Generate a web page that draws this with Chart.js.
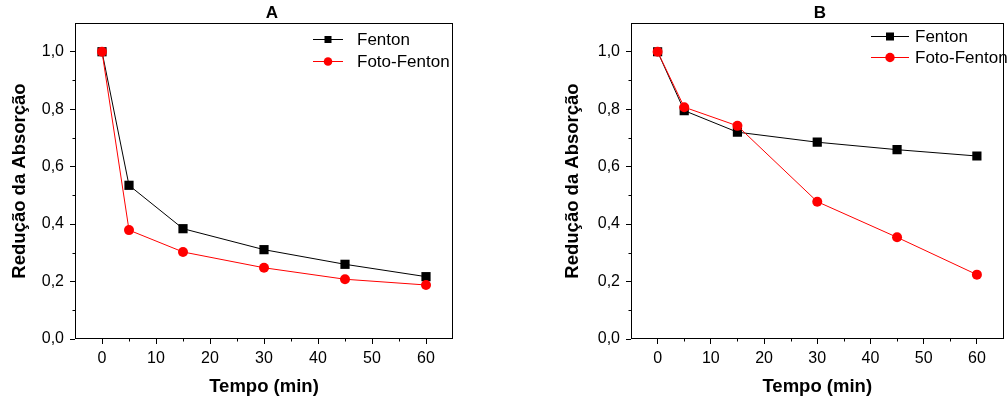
<!DOCTYPE html>
<html>
<head>
<meta charset="utf-8">
<script src="https://cdn.jsdelivr.net/npm/chart.js@4.4.1/dist/chart.umd.min.js"></script>
<style>
html, body { margin: 0; padding: 0; background: #fff; }
body { width: 1008px; height: 400px; overflow: hidden; position: relative; }
canvas { position: absolute; top: 0; }
#chartA { left: 0; }
#chartB { left: 540px; }
</style>
</head>
<body>
<canvas id="chartA" width="470" height="400"></canvas>
<canvas id="chartB" width="470" height="400"></canvas>
<script>
// ---------- data ----------
const tempo = [0, 5, 15, 30, 45, 60];
const fentonA = [1.0, 0.535, 0.384, 0.311, 0.260, 0.217];
const fotoFentonA = [1.0, 0.379, 0.303, 0.248, 0.208, 0.188];
const fentonB = [1.0, 0.795, 0.720, 0.685, 0.659, 0.637];
const fotoFentonB = [1.0, 0.807, 0.742, 0.478, 0.354, 0.224];

const seriesNames = ['Fenton', 'Foto-Fenton'];
const xMajorTicks = [0, 10, 20, 30, 40, 50, 60];
const xMinorTicks = [5, 15, 25, 35, 45, 55];
const yMajorTicks = [0, 0.2, 0.4, 0.6, 0.8, 1.0];
const yMinorTicks = [0.1, 0.3, 0.5, 0.7, 0.9];
const xTitle = 'Tempo (min)';
const yTitle = 'Redução da Absorção';

const FONT = '"Liberation Sans", Arial, sans-serif';
Chart.defaults.font.family = FONT;
Chart.defaults.color = '#000';

// frame, minor ticks, panel title and legend
const decorPlugin = {
    id: 'decor',
    afterDraw(chart, args, opts) {
        const { ctx, chartArea: a, scales } = chart;
        ctx.save();
        ctx.strokeStyle = '#000';
        ctx.lineWidth = 1;
        const L = Math.round(a.left) + 0.5, R = Math.round(a.right) - 0.5;
        const T = Math.round(a.top) + 0.5, B = Math.round(a.bottom) - 0.5;
        ctx.strokeRect(L, T, R - L, B - T);

        // minor ticks
        ctx.beginPath();
        xMinorTicks.forEach(v => {
            const px = Math.round(scales.x.getPixelForValue(v)) + 0.5;
            ctx.moveTo(px, B); ctx.lineTo(px, B + 3);
        });
        yMinorTicks.forEach(v => {
            const py = Math.round(scales.y.getPixelForValue(v)) + 0.5;
            ctx.moveTo(L, py); ctx.lineTo(L - 3, py);
        });
        ctx.stroke();

        // panel title
        ctx.fillStyle = '#000';
        ctx.font = 'bold 17px ' + FONT;
        ctx.textAlign = 'center';
        ctx.textBaseline = 'middle';
        ctx.fillText(opts.title, opts.titleX, 13);

        // legend
        const lg = opts.legend;
        const colors = ['#000', '#ff0000'];
        ctx.font = '17px ' + FONT;
        ctx.textAlign = 'left';
        seriesNames.forEach((name, i) => {
            const yy = lg.y[i];
            const mid = (lg.x0 + lg.x1) / 2;
            ctx.strokeStyle = colors[i];
            ctx.fillStyle = colors[i];
            ctx.beginPath();
            ctx.moveTo(lg.x0, yy + 0.5); ctx.lineTo(lg.x1, yy + 0.5);
            ctx.stroke();
            if (i === 0) {
                ctx.fillRect(mid - lg.sq / 2, yy - lg.sq / 2 + 0.5, lg.sq, lg.sq);
            } else {
                ctx.beginPath();
                ctx.arc(mid, yy + 0.5, lg.r, 0, Math.PI * 2);
                ctx.fill();
            }
            ctx.fillStyle = '#000';
            ctx.fillText(name, lg.tx, yy + 1);
        });
        ctx.restore();
    }
};

function pts(arr) {
    return tempo.map((t, i) => ({ x: t, y: arr[i] }));
}

function makeChart(id, fenton, foto, cfg) {
    return new Chart(document.getElementById(id), {
        type: 'line',
        data: {
            datasets: [{
                label: seriesNames[0],
                data: pts(fenton),
                borderColor: '#000',
                backgroundColor: '#000',
                borderWidth: 1,
                pointStyle: 'rect',
                pointRadius: 6.5,
                pointBorderWidth: 0,
                order: 1
            }, {
                label: seriesNames[1],
                data: pts(foto),
                borderColor: '#ff0000',
                backgroundColor: '#ff0000',
                borderWidth: 1,
                pointStyle: 'circle',
                pointRadius: 5,
                pointBorderWidth: 0,
                order: 0
            }]
        },
        options: {
            responsive: false,
            animation: false,
            layout: { padding: { left: 0, right: cfg.padRight, top: 23, bottom: 0 } },
            plugins: {
                legend: { display: false },
                tooltip: { enabled: false },
                decor: { title: cfg.title, titleX: cfg.titleX, legend: cfg.legend }
            },
            scales: {
                x: {
                    type: 'linear',
                    min: -5, max: 65,
                    afterBuildTicks: s => { s.ticks = xMajorTicks.map(v => ({ value: v })); },
                    afterFit: s => { s.height = 61; },
                    grid: { drawOnChartArea: false, drawTicks: true, tickLength: 5, color: '#000' },
                    border: { display: false },
                    ticks: { font: { size: 16 }, padding: 5, maxRotation: 0, callback: v => String(v) },
                    title: { display: true, text: xTitle, font: { size: 18.5, weight: 'bold' }, padding: { top: 0, bottom: 2 } }
                },
                y: {
                    min: 0, max: 1.1,
                    afterBuildTicks: s => { s.ticks = yMajorTicks.map(v => ({ value: v })); },
                    afterFit: s => { s.width = cfg.yWidth; },
                    grid: { drawOnChartArea: false, drawTicks: true, tickLength: 5, color: '#000' },
                    border: { display: false },
                    ticks: { font: { size: 16 }, padding: 6, callback: v => v.toFixed(1).replace('.', ',') },
                    title: { display: true, text: yTitle, font: { size: 18.5, weight: 'bold' }, padding: { top: cfg.yTitlePad, bottom: 0 } }
                }
            }
        },
        plugins: [decorPlugin]
    });
}

makeChart('chartA', fentonA, fotoFentonA, {
    yWidth: 75, yTitlePad: 9, padRight: 17,
    title: 'A', titleX: 272,
    legend: { x0: 313, x1: 343, tx: 357, y: [39, 61], sq: 7, r: 4.3 }
});
makeChart('chartB', fentonB, fotoFentonB, {
    yWidth: 91, yTitlePad: 22, padRight: 1,
    title: 'B', titleX: 280,
    legend: { x0: 331, x1: 369, tx: 375, y: [36, 57], sq: 8, r: 4.7 }
});
</script>
</body>
</html>
